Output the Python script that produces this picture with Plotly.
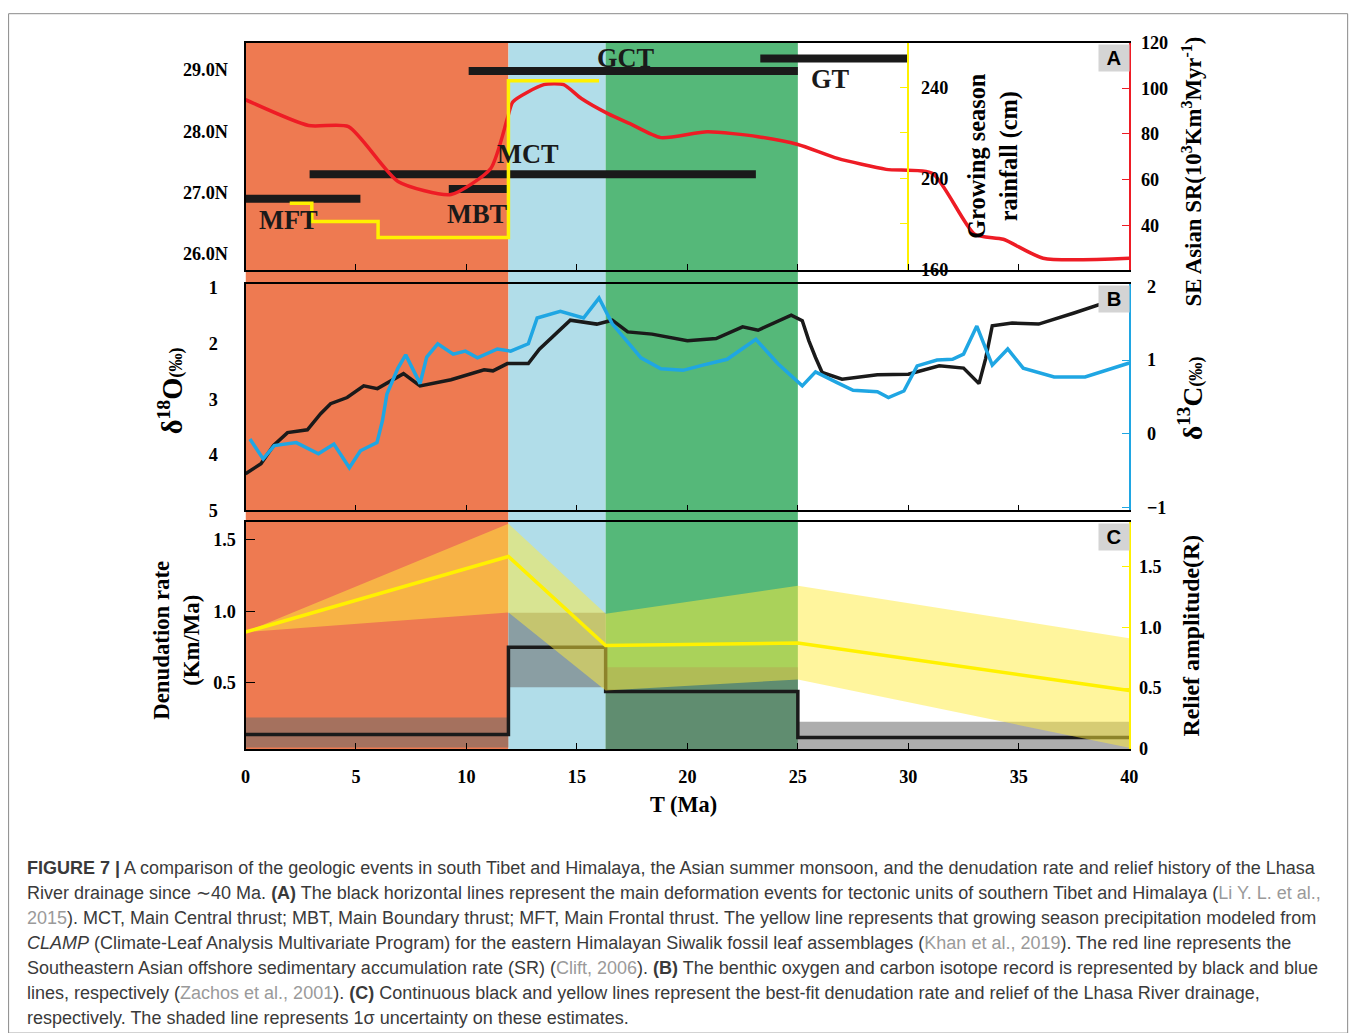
import plotly.graph_objects as go

W, H = 1358, 1033
# measured photograph transform (screen = A * page + B); positions below are screen targets
AX, BX = 0.990, 4.4
AY, BY = 0.983, 8.3
FS = 1.0 / ((AX + AY) / 2)


def fx(px):
    return ((px - BX) / AX) / W


def fy(py):
    return 1 - ((py - BY) / AY) / H


def fs(size):
    return round(size * FS, 1)


# ---------------- data ----------------
period_edges = [0.0, 11.9, 16.3, 25.0]
period_colors = ["#EE7A51", "#B1DDE9", "#55B879"]

# Panel A: thrust activity (Ma) and latitude
thrust_names = ["GT", "GCT", "MCT", "MBT", "MFT"]
thrust_start = [23.3, 10.1, 2.9, 9.2, 0.0]
thrust_end = [30.0, 25.0, 23.1, 11.9, 5.2]
thrust_lat = [29.18, 28.98, 27.30, 27.06, 26.90]

# growing season rainfall (cm), step series
rain_t = [2.0, 3.0, 6.0, 11.9, 16.0]
rain_cm = [189, 181, 174, 243, 243]

# SE Asian SR (10^3 km^3/Myr)
sr_t = [0, 2.85, 4.66, 6.9, 9.3, 11.1, 11.85, 12.1, 13.5, 14.4, 15.2, 16.4, 17.4,
        18.8, 20.9, 23.2, 25.0, 26.8, 29.0, 31.1, 33.0, 34.3, 36.1, 40.0]
sr_val = [95.0, 83.7, 83.2, 59.2, 53.5, 64.9, 86.7, 94.1, 101.6, 101.6, 95.5, 88.9, 84.5,
          78.4, 81.0, 78.8, 75.4, 69.3, 64.5, 62.7, 36.1, 33.9, 25.6, 25.6]

# Panel B: benthic d18O and d13C
o_t = [0.0, 0.7, 1.27, 1.9, 2.8, 3.4, 3.85, 4.6, 5.35, 5.97, 7.15, 7.9, 9.3, 10.8, 11.2,
       11.85, 12.8, 13.3, 14.7, 15.9, 16.6, 17.3, 18.4, 20.0, 21.3, 22.5, 23.2, 24.7, 25.2,
       25.5, 25.8, 26.1, 27.0, 28.6, 30.0, 31.4, 32.5, 33.2, 33.5, 33.8, 34.7, 35.9, 37.5,
       38.8, 40.0]
o_val = [4.34, 4.16, 3.83, 3.60, 3.55, 3.26, 3.08, 2.97, 2.76, 2.81, 2.54, 2.76, 2.65, 2.47,
         2.49, 2.36, 2.36, 2.10, 1.58, 1.65, 1.58, 1.79, 1.83, 1.95, 1.91, 1.70, 1.76, 1.49,
         1.59, 1.95, 2.25, 2.52, 2.64, 2.56, 2.55, 2.40, 2.44, 2.72, 2.27, 1.68, 1.63, 1.65,
         1.45, 1.27, 1.12]

c_t = [0.2, 0.8, 1.3, 2.3, 3.3, 4.0, 4.7, 5.2, 5.95, 6.2, 6.4, 6.9, 7.25, 7.9, 8.2, 8.7,
       9.4, 9.95, 10.5, 11.4, 12.0, 12.8, 13.2, 14.25, 15.3, 16.0, 16.6, 17.9, 18.8, 19.8,
       20.7, 21.8, 23.1, 24.1, 25.2, 25.8, 26.8, 27.5, 28.6, 29.1, 29.8, 30.4, 31.3, 32.0,
       32.5, 33.1, 33.8, 34.5, 35.2, 36.6, 38.0, 40.0]
c_val = [-0.07, -0.34, -0.16, -0.12, -0.27, -0.14, -0.46, -0.23, -0.12, 0.18, 0.54, 0.89,
         1.07, 0.68, 1.04, 1.22, 1.08, 1.12, 1.03, 1.15, 1.12, 1.22, 1.57, 1.66, 1.57, 1.84,
         1.49, 1.03, 0.88, 0.86, 0.93, 1.01, 1.28, 0.95, 0.65, 0.84, 0.69, 0.59, 0.57, 0.49,
         0.58, 0.92, 1.00, 1.01, 1.08, 1.46, 0.93, 1.15, 0.89, 0.77, 0.77, 0.96]

# Panel C: denudation rate (km/Ma) step series with 1-sigma band
den_edges = [0.0, 11.9, 16.3, 25.0, 40.0]
den_best = [0.14, 0.75, 0.44, 0.12]
den_low = [0.05, 0.47, 0.04, 0.04]
den_high = [0.26, 0.99, 0.61, 0.23]

# relief amplitude with 1-sigma band
relief_t = [0.0, 11.9, 16.3, 25.0, 40.0]
relief_best = [0.96, 1.58, 0.85, 0.87, 0.48]
relief_high = [0.96, 1.85, 1.11, 1.34, 0.91]
relief_low = [0.96, 1.12, 0.48, 0.57, 0.01]

x_ticks = [0, 5, 10, 15, 20, 25, 30, 35, 40]

# ---------------- styles ----------------
SERIF = "Liberation Serif"
SANS = "Liberation Sans"
RED = "#EE1C25"
YEL = "#FFF100"
BLUE = "#1FA6E3"
BLK = "#1a1a1a"
tickfont = dict(family=SERIF, size=fs(18), color="black", weight="bold")

fig = go.Figure()

# background periods spanning all three panels
for i, col in enumerate(period_colors):
    fig.add_shape(type="rect", xref="x", yref="paper",
                  x0=period_edges[i], x1=period_edges[i + 1],
                  y0=fy(749), y1=fy(41), fillcolor=col, line_width=0, layer="below")

# ---- Panel A ----
for s, e, lat in zip(thrust_start, thrust_end, thrust_lat):
    fig.add_trace(go.Scatter(x=[s, e], y=[lat, lat], xaxis="x2", yaxis="y5", mode="lines",
                             line=dict(color=BLK, width=8), hoverinfo="skip"))
fig.add_trace(go.Scatter(x=sr_t, y=sr_val, xaxis="x2", yaxis="y6", mode="lines",
                         line=dict(color=RED, width=3.5, shape="spline", smoothing=0.6)))
fig.add_trace(go.Scatter(x=rain_t, y=rain_cm, xaxis="x2", yaxis="y7", mode="lines",
                         line=dict(color=YEL, width=3.5, shape="hv")))

# ---- Panel B ----
fig.add_trace(go.Scatter(x=o_t, y=o_val, xaxis="x3", yaxis="y3", mode="lines",
                         line=dict(color=BLK, width=3.5)))
fig.add_trace(go.Scatter(x=c_t, y=c_val, xaxis="x3", yaxis="y4", mode="lines",
                         line=dict(color=BLUE, width=3.5)))

# ---- Panel C ----
fig.add_trace(go.Scatter(x=relief_t + relief_t[::-1], y=relief_high + relief_low[::-1],
                         xaxis="x", yaxis="y2", mode="lines", fill="toself",
                         fillcolor="rgba(255,236,60,0.5)", line=dict(width=0)))
fig.add_trace(go.Scatter(x=den_edges, y=den_low + [den_low[-1]], xaxis="x", yaxis="y",
                         mode="lines", line=dict(width=0, shape="hv")))
fig.add_trace(go.Scatter(x=den_edges, y=den_high + [den_high[-1]], xaxis="x", yaxis="y",
                         mode="lines", line=dict(width=0, shape="hv"), fill="tonexty",
                         fillcolor="rgba(105,105,105,0.55)"))
fig.add_trace(go.Scatter(x=den_edges, y=den_best + [den_best[-1]], xaxis="x", yaxis="y",
                         mode="lines", line=dict(color=BLK, width=3.5, shape="hv")))
fig.add_trace(go.Scatter(x=relief_t, y=relief_best, xaxis="x", yaxis="y2", mode="lines",
                         line=dict(color=YEL, width=3.5)))

xdom = [fx(245), fx(1129)]
xcommon = dict(domain=xdom, range=[0, 40], showgrid=False, zeroline=False, showline=True,
               mirror=True, linecolor="black", linewidth=1.5, ticks="inside", ticklen=6,
               tickcolor="black", tickvals=x_ticks[1:-1], tickfont=tickfont)

ycommon = dict(showgrid=False, zeroline=False, showline=True, linewidth=2, tickfont=tickfont)

fig.update_layout(
    width=W, height=H, margin=dict(l=0, r=0, t=0, b=0),
    paper_bgcolor="white", plot_bgcolor="rgba(0,0,0,0)", showlegend=False,
    xaxis=dict(**{**xcommon, "tickvals": x_ticks}, anchor="y", ticklabelstandoff=10),
    xaxis2=dict(**xcommon, anchor="y5", showticklabels=False),
    xaxis3=dict(**xcommon, anchor="y3", showticklabels=False),
    # panel C
    yaxis=dict(**ycommon, domain=[fy(749), fy(522)], range=[0.04, 1.62], anchor="x",
               linecolor="black", tickvals=[0.5, 1.0, 1.5], ticktext=["0.5", "1.0", "1.5"],
               ticks="inside", ticklen=9, tickcolor="black", ticklabelstandoff=4),
    yaxis2=dict(**ycommon, overlaying="y", side="right", anchor="x", range=[0, 1.86],
                linecolor=YEL, tickvals=[0, 0.5, 1.0, 1.5], ticktext=["0", "0.5", "1.0", "1.5"],
                ticks="inside", ticklen=7, tickcolor=YEL, ticklabelstandoff=4),
    # panel B
    yaxis3=dict(**ycommon, domain=[fy(510), fy(283)], range=[5, 0.93], anchor="x3",
                linecolor="black", tickvals=[1, 2, 3, 4, 5], ticks="", ticklabelstandoff=22),
    yaxis4=dict(**ycommon, overlaying="y3", side="right", anchor="x3", range=[-1.04, 2.03],
                linecolor=BLUE, tickvals=[-1, 0, 1, 2], ticks="inside", ticklen=7,
                tickcolor=BLUE, ticklabelstandoff=12),
    # panel A
    yaxis5=dict(**ycommon, domain=[fy(269), fy(41)], range=[25.74, 29.44], anchor="x2",
                linecolor="black", tickvals=[26, 27, 28, 29],
                ticktext=["26.0N", "27.0N", "28.0N", "29.0N"], ticks="", ticklabelstandoff=12),
    yaxis6=dict(**ycommon, overlaying="y5", side="right", anchor="x2", range=[20.4, 120],
                linecolor=RED, tickvals=[40, 60, 80, 100, 120], ticks="inside", ticklen=7,
                tickcolor=RED, ticklabelstandoff=6),
    yaxis7=dict(**ycommon, overlaying="y5", side="right", anchor="free", position=fx(908),
                range=[159.6, 259.8], linecolor=YEL, tickvals=[160, 180, 200, 220, 240],
                ticktext=["160", "", "200", "", "240"], ticks="inside", ticklen=7,
                tickcolor=YEL, ticklabelstandoff=8),
)

ann = []
# thrust labels (placement)
label_pos = {"GCT": (17.2, 29.19), "GT": (26.5, 28.85), "MCT": (12.8, 27.63),
             "MBT": (10.5, 26.66), "MFT": (1.95, 26.55)}
for n in thrust_names:
    lx, ly = label_pos[n]
    ann.append(dict(x=lx, y=ly, xref="x2", yref="y5", text=f"<b>{n}</b>", showarrow=False,
                    xanchor="center", yanchor="middle",
                    font=dict(family=SERIF, size=fs(26), color=BLK)))

# panel letters
for letter, top in [("A", 42), ("B", 284), ("C", 523)]:
    ann.append(dict(x=fx(1129.5), y=fy(top), xref="paper", yref="paper", xanchor="right",
                    yanchor="top", text=f"<b>{letter}</b>", showarrow=False, width=28, height=24,
                    bgcolor="#D4D4D4", font=dict(family=SANS, size=fs(20), color="black")))

titles = [
    dict(x=fx(169), y=fy(390),
         text=f"δ<sup>18</sup>O<span style='font-size:{fs(18)}px'>(‰)</span>",
         textangle=-90, font=dict(family=SERIF, size=fs(28), color="black", weight="bold")),
    dict(x=fx(176), y=fy(640), text="Denudation rate<br>(Km/Ma)", textangle=-90,
         font=dict(family=SERIF, size=fs(22.5), color="black", weight="bold")),
    dict(x=fx(1192), y=fy(170),
         text="SE Asian SR(10<sup>3</sup>Km<sup>3</sup>Myr<sup>-1</sup>)", textangle=-90,
         font=dict(family=SERIF, size=fs(22.5), color="black", weight="bold")),
    dict(x=fx(1191), y=fy(398),
         text=f"δ<sup>13</sup>C<span style='font-size:{fs(18)}px'>(‰)</span>",
         textangle=-90, font=dict(family=SERIF, size=fs(27), color="black", weight="bold")),
    dict(x=fx(1191), y=fy(635), text="Relief amplitude(R)", textangle=-90,
         font=dict(family=SERIF, size=fs(23.5), color="black", weight="bold")),
    dict(x=fx(993), y=fy(155), text="Growing season<br>rainfall (cm)", textangle=-90,
         font=dict(family=SERIF, size=fs(24), color="black", weight="bold")),
    dict(x=fx(683), y=fy(805), text="T (Ma)",
         font=dict(family=SERIF, size=fs(22), color="black", weight="bold")),
]
for a in titles:
    a.update(xref="paper", yref="paper", showarrow=False, xanchor="center", yanchor="middle")
ann += titles

G = "color:#9a9a9a"
caption = [
    "<b>FIGURE 7 |</b> A comparison of the geologic events in south Tibet and Himalaya, the Asian summer monsoon, and the denudation rate and relief history of the Lhasa",
    f"River drainage since ∼40 Ma. <b>(A)</b> The black horizontal lines represent the main deformation events for tectonic units of southern Tibet and Himalaya (<span style='{G}'>Li Y. L. et al.,</span>",
    f"<span style='{G}'>2015</span>). MCT, Main Central thrust; MBT, Main Boundary thrust; MFT, Main Frontal thrust. The yellow line represents that growing season precipitation modeled from",
    f"<i>CLAMP</i> (Climate-Leaf Analysis Multivariate Program) for the eastern Himalayan Siwalik fossil leaf assemblages (<span style='{G}'>Khan et al., 2019</span>). The red line represents the",
    f"Southeastern Asian offshore sedimentary accumulation rate (SR) (<span style='{G}'>Clift, 2006</span>). <b>(B)</b> The benthic oxygen and carbon isotope record is represented by black and blue",
    f"lines, respectively (<span style='{G}'>Zachos et al., 2001</span>). <b>(C)</b> Continuous black and yellow lines represent the best-fit denudation rate and relief of the Lhasa River drainage,",
    "respectively. The shaded line represents 1σ uncertainty on these estimates.",
]
for i, line in enumerate(caption):
    ann.append(dict(x=fx(24), y=fy(868 + 25.2 * i), xref="paper", yref="paper", xanchor="left",
                    yanchor="middle", text=line, showarrow=False, align="left",
                    font=dict(family=SANS, size=18.0, color="#3a3a3a")))

fig.update_layout(annotations=ann)

# outer figure border
fig.add_shape(type="rect", xref="paper", yref="paper", x0=max(fx(8), 0.001),
              x1=min(fx(1350), 0.999), y0=-0.01, y1=fy(12),
              line=dict(color="#8a8a8a", width=1), layer="above")

fig.write_html("out.html", config={"displayModeBar": False},
               post_script="document.body.style.margin='0';document.body.style.overflow='hidden';")
